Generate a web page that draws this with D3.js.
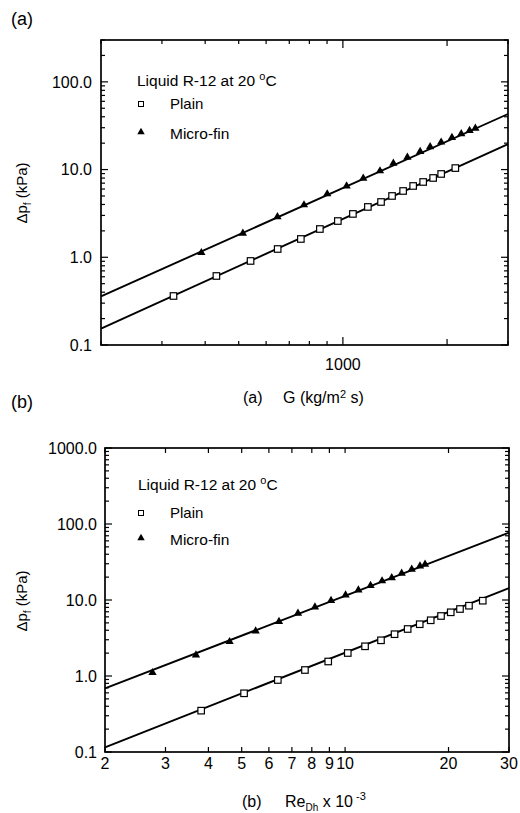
<!DOCTYPE html>
<html>
<head>
<meta charset="utf-8">
<script src="https://cdn.jsdelivr.net/npm/d3@7"></script>
<style>
  html, body { margin: 0; padding: 0; background: #fff; }
  svg { display: block; font-family: "Liberation Sans", Arial, Helvetica, sans-serif; }
</style>
</head>
<body>
<svg id="chart" width="520" height="813"></svg>
<script>
// ---------- Panel (a): G (kg/m2 s) vs pressure drop ----------
const aPlainG   = [324, 431, 541, 648, 756, 858, 967, 1069, 1181, 1289, 1387, 1493, 1596, 1706, 1823, 1923, 2113];
const aPlainDp  = [0.362, 0.612, 0.908, 1.243, 1.617, 2.10, 2.59, 3.12, 3.75, 4.27, 5.00, 5.70, 6.50, 7.22, 8.02, 8.91, 10.4];
const aFinG     = [390, 514, 647, 772, 901, 1025, 1145, 1280, 1399, 1536, 1672, 1787, 1923, 2066, 2198, 2323, 2414];
const aFinDp    = [1.128, 1.878, 2.90, 3.95, 5.27, 6.50, 7.96, 9.64, 11.8, 13.8, 16.0, 18.2, 20.5, 23.1, 25.5, 27.8, 29.6];
const aPlainFitX = [200, 3000];
const aPlainFitY = [0.154, 19.5];
const aFinFitX   = [200, 3000];
const aFinFitY   = [0.358, 43.0];
const aXDomain = [200, 3000];
const aYDomain = [0.1, 300];
const aXLabeled = [1000];
const aXLabels  = ["1000"];
const aYMajor   = [0.1, 1, 10, 100];
const aYLabels  = ["0.1", "1.0", "10.0", "100.0"];

// ---------- Panel (b): Re_Dh x 10^-3 vs pressure drop ----------
const bPlainRe  = [3.81, 5.08, 6.37, 7.64, 8.93, 10.18, 11.43, 12.72, 13.93, 15.21, 16.49, 17.75, 19.02, 20.30, 21.60, 22.94, 25.16];
const bPlainDp  = [0.350, 0.592, 0.886, 1.199, 1.552, 2.007, 2.459, 2.949, 3.548, 4.153, 4.80, 5.41, 6.16, 6.89, 7.61, 8.41, 9.79];
const bFinRe    = [2.75, 3.68, 4.61, 5.49, 6.42, 7.29, 8.17, 9.10, 10.03, 10.93, 11.86, 12.81, 13.67, 14.61, 15.63, 16.52, 17.09];
const bFinDp    = [1.105, 1.889, 2.827, 3.91, 5.21, 6.68, 8.09, 9.85, 11.6, 13.5, 15.5, 17.8, 19.6, 22.5, 25.4, 28.0, 29.5];
const bPlainFitX = [2, 30];
const bPlainFitY = [0.1153, 14.3];
const bFinFitX   = [2, 30];
const bFinFitY   = [0.689, 76.9];
const bXDomain = [2, 30];
const bYDomain = [0.1, 1000];
const bXLabeled = [2, 3, 4, 5, 6, 7, 8, 9, 10, 20, 30];
const bXLabels  = ["2", "3", "4", "5", "6", "7", "8", "9", "10", "20", "30"];
const bYMajor   = [0.1, 1, 10, 100, 1000];
const bYLabels  = ["0.1", "1.0", "10.0", "100.0", "1000.0"];

const legendTitle = "Liquid R-12 at 20 ";
const seriesNames = ["Plain", "Micro-fin"];

const svg = d3.select("#chart");

function drawPanel(cfg) {
  const x = d3.scaleLog().domain(cfg.xDomain).range([cfg.left, cfg.right]);
  const y = d3.scaleLog().domain(cfg.yDomain).range([cfg.bottom, cfg.top]);
  const g = svg.append("g");

  // fit lines
  const line = d3.line().x(d => x(d[0])).y(d => y(d[1]));
  [[cfg.plainFitX, cfg.plainFitY], [cfg.finFitX, cfg.finFitY]].forEach(([xs, ys]) => {
    g.append("path")
      .attr("d", line(xs.map((v, i) => [v, ys[i]])))
      .attr("fill", "none").attr("stroke", "#000").attr("stroke-width", 1.9);
  });

  // micro-fin triangles
  const tri = d3.symbol().type(d3.symbolTriangle).size(30);
  g.selectAll(null).data(cfg.finX.map((v, i) => [v, cfg.finY[i]])).enter()
    .append("path").attr("d", tri)
    .attr("transform", d => `translate(${x(d[0])},${y(d[1])})`)
    .attr("fill", "#000");

  // plain squares
  const s = 6.5;
  g.selectAll(null).data(cfg.plainX.map((v, i) => [v, cfg.plainY[i]])).enter()
    .append("rect")
    .attr("x", d => x(d[0]) - s / 2).attr("y", d => y(d[1]) - s / 2)
    .attr("width", s).attr("height", s)
    .attr("fill", "#fff").attr("stroke", "#000").attr("stroke-width", 1.2);

  // frame
  g.append("rect")
    .attr("x", cfg.left).attr("y", cfg.top)
    .attr("width", cfg.right - cfg.left).attr("height", cfg.bottom - cfg.top)
    .attr("fill", "none").attr("stroke", "#000").attr("stroke-width", 1.7);

  // y ticks (left and right, inward)
  const yTicks = y.ticks();
  yTicks.forEach(t => {
    const major = cfg.yMajor.some(m => Math.abs(m - t) / m < 1e-6);
    const len = major ? 7 : 4;
    const yy = y(t);
    g.append("line").attr("x1", cfg.left).attr("x2", cfg.left + len)
      .attr("y1", yy).attr("y2", yy).attr("stroke", "#000").attr("stroke-width", 1.2);
    g.append("line").attr("x1", cfg.right).attr("x2", cfg.right - len)
      .attr("y1", yy).attr("y2", yy).attr("stroke", "#000").attr("stroke-width", 1.2);
  });
  cfg.yMajor.forEach((t, i) => {
    g.append("text").attr("x", cfg.left - cfg.yLabelGap).attr("y", y(t))
      .attr("dy", "0.36em").attr("text-anchor", "end")
      .attr("font-size", 16).text(cfg.yLabels[i]);
  });

  // x ticks (bottom and top, inward)
  const xTicks = x.ticks();
  xTicks.forEach(t => {
    const labeled = cfg.xLabeled.some(m => Math.abs(m - t) / m < 1e-6);
    const len = labeled ? cfg.xMajorLen : (cfg.xMid.includes(t) ? 6 : 4);
    const xx = x(t);
    g.append("line").attr("x1", xx).attr("x2", xx)
      .attr("y1", cfg.bottom).attr("y2", cfg.bottom - len).attr("stroke", "#000").attr("stroke-width", 1.2);
    g.append("line").attr("x1", xx).attr("x2", xx)
      .attr("y1", cfg.top).attr("y2", cfg.top + len).attr("stroke", "#000").attr("stroke-width", 1.2);
  });
  cfg.xLabeled.forEach((t, i) => {
    g.append("text").attr("x", x(t)).attr("y", cfg.bottom + cfg.xLabelOffset)
      .attr("text-anchor", "middle").attr("font-size", 16).text(cfg.xLabels[i]);
  });

  // legend
  const lg = svg.append("g");
  const lt = lg.append("text").attr("x", cfg.legX).attr("y", cfg.legY).attr("font-size", 15.5);
  lt.append("tspan").text(legendTitle);
  lt.append("tspan").attr("font-size", 11).attr("dy", -6).text("o");
  lt.append("tspan").attr("dy", 6).text("C");
  lg.append("rect").attr("x", cfg.legMX - 2.5).attr("y", cfg.legY + cfg.legD1 - 2.5)
    .attr("width", 5).attr("height", 5).attr("fill", "#fff").attr("stroke", "#000").attr("stroke-width", 1);
  lg.append("text").attr("x", cfg.legTX).attr("y", cfg.legY + cfg.legD1).attr("dy", "0.36em")
    .attr("font-size", 15).text(seriesNames[0]);
  lg.append("path").attr("d", d3.symbol().type(d3.symbolTriangle).size(24)())
    .attr("transform", `translate(${cfg.legMX},${cfg.legY + cfg.legD2 - 1})`).attr("fill", "#000");
  lg.append("text").attr("x", cfg.legTX).attr("y", cfg.legY + cfg.legD2).attr("dy", "0.36em")
    .attr("font-size", 15.5).text(seriesNames[1]);

  // y axis title
  const yt = svg.append("text")
    .attr("transform", `translate(${cfg.yTitleX},${cfg.yTitleY}) rotate(-90)`)
    .attr("text-anchor", "middle").attr("font-size", 15);
  yt.append("tspan").text("\u0394p");
  yt.append("tspan").attr("font-size", 10).attr("dy", 4).text("f");
  yt.append("tspan").attr("dy", -4).text(" (kPa)");

  // panel label
  svg.append("text").attr("x", 11).attr("y", cfg.panelLabelY)
    .attr("font-size", 18).text(cfg.panelLabel);
}

drawPanel({
  left: 101, right: 508, top: 40, bottom: 345,
  xDomain: aXDomain, yDomain: aYDomain,
  plainX: aPlainG, plainY: aPlainDp, finX: aFinG, finY: aFinDp,
  plainFitX: aPlainFitX, plainFitY: aPlainFitY, finFitX: aFinFitX, finFitY: aFinFitY,
  yMajor: aYMajor, yLabels: aYLabels, yLabelGap: 9,
  xLabeled: aXLabeled, xLabels: aXLabels, xMid: [2000], xMajorLen: 8, xLabelOffset: 25,
  legX: 137, legY: 86, legMX: 141, legTX: 170, legD1: 18, legD2: 47,
  yTitleX: 27, yTitleY: 193,
  panelLabel: "(a)", panelLabelY: 25
});

drawPanel({
  left: 105, right: 509, top: 448, bottom: 752,
  xDomain: bXDomain, yDomain: bYDomain,
  plainX: bPlainRe, plainY: bPlainDp, finX: bFinRe, finY: bFinDp,
  plainFitX: bPlainFitX, plainFitY: bPlainFitY, finFitX: bFinFitX, finFitY: bFinFitY,
  yMajor: bYMajor, yLabels: bYLabels, yLabelGap: 8,
  xLabeled: bXLabeled, xLabels: bXLabels, xMid: [], xMajorLen: 5, xLabelOffset: 17,
  legX: 138, legY: 490, legMX: 141, legTX: 170, legD1: 23, legD2: 49,
  yTitleX: 27, yTitleY: 601,
  panelLabel: "(b)", panelLabelY: 408
});

// x axis titles
const xa = svg.append("text").attr("x", 243).attr("y", 403).attr("font-size", 16);
xa.append("tspan").text("(a)");
xa.append("tspan").attr("x", 283).text("G (kg/m");
xa.append("tspan").attr("font-size", 11).attr("dy", -5).text("2");
xa.append("tspan").attr("dy", 5).text(" s)");

const xb = svg.append("text").attr("x", 242).attr("y", 807).attr("font-size", 16);
xb.append("tspan").text("(b)");
xb.append("tspan").attr("x", 285).text("Re");
xb.append("tspan").attr("font-size", 10).attr("dy", 4).text("Dh");
xb.append("tspan").attr("dy", -4).text(" x 10");
xb.append("tspan").attr("font-size", 11).attr("dy", -7).text(" -3");
</script>
</body>
</html>
